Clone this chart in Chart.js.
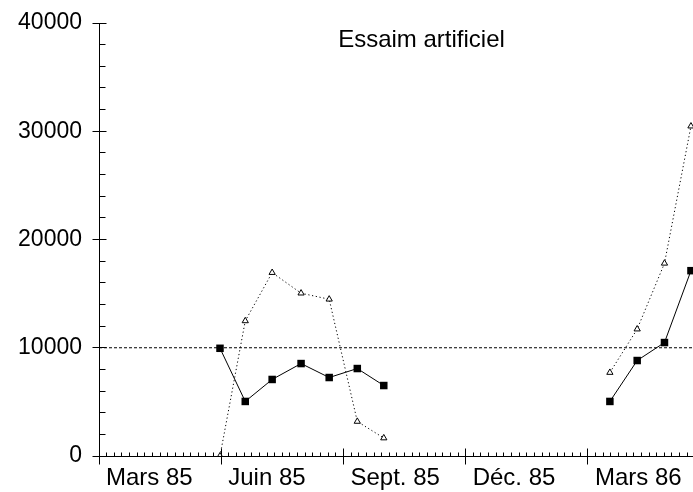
<!DOCTYPE html>
<html>
<head>
<meta charset="utf-8">
<script src="https://cdn.jsdelivr.net/npm/chart.js@4/dist/chart.umd.min.js"></script>
<style>
  html, body { margin: 0; padding: 0; background: #fff; }
  canvas { display: block; }
</style>
</head>
<body>
<canvas id="c" width="693" height="492"></canvas>
<script>
// ---- data (x = months since 1 March 1985) ----
const chartTitle = 'Essaim artificiel';
const tickMonths = [0, 3, 6, 9, 12];
const tickLabels = ['Mars 85', 'Juin 85', 'Sept. 85', 'Déc. 85', 'Mars 86'];
const yTickValues = [0, 10000, 20000, 30000, 40000];

const sampleMonths1985 = [2.97, 3.59, 4.25, 4.96, 5.65, 6.34, 6.99];
const sampleMonths1986 = [12.54, 13.21, 13.88, 14.53];

const squareValues1985 = [9950, 5040, 7070, 8540, 7250, 8080, 6510];
const squareValues1986 = [5040, 8820, 10480, 17120];

const triangleValues1985 = [0, 12480, 16940, 15040, 14480, 3190, 1660];
const triangleValues1986 = [7710, 11720, 17800, 30470];

const thresholdValue = 10000;
const xMin = 0, xMax = 14.58;
const yMin = 0, yMax = 40000;

// ---- build points ----
function seriesPoints(m1, v1, m2, v2) {
  const pts = m1.map((m, i) => ({ x: m, y: v1[i] }));
  pts.push({ x: (m1[m1.length - 1] + m2[0]) / 2, y: null });
  m2.forEach((m, i) => pts.push({ x: m, y: v2[i] }));
  return pts;
}

const FONT = '"Liberation Sans", Arial, sans-serif';

const decorations = {
  id: 'decorations',
  afterDraw(chart) {
    const { ctx, scales } = chart;
    const x = scales.x, y = scales.y;
    const ax = Math.round(y.right - 0.5) + 0.5;
    const ay = Math.round(x.top - 0.5) + 0.5;
    ctx.save();
    ctx.strokeStyle = '#000';
    ctx.lineWidth = 1;
    ctx.beginPath();
    // x minor ticks (16 per quarter), major ticks every quarter
    for (let k = 0; ; k++) {
      const v = xMin + k * 3 / 16;
      if (v > xMax + 1e-9) break;
      const px = Math.round(x.getPixelForValue(v) - 0.5) + 0.5;
      if (k % 16 === 0) {
        ctx.moveTo(px, ay - 8); ctx.lineTo(px, ay + 8);
      } else {
        ctx.moveTo(px, ay - 4); ctx.lineTo(px, ay);
      }
    }
    // y ticks every 2000, majors every 10000
    for (let v = yMin; v <= yMax; v += 2000) {
      const py = Math.round(y.getPixelForValue(v) - 0.5) + 0.5;
      if (v % 10000 === 0) {
        ctx.moveTo(ax - 7, py); ctx.lineTo(ax + 7, py);
      } else {
        ctx.moveTo(ax, py); ctx.lineTo(ax + 6, py);
      }
    }
    ctx.stroke();
    // title
    ctx.fillStyle = '#000';
    ctx.font = '24px ' + FONT;
    ctx.textAlign = 'center';
    ctx.textBaseline = 'alphabetic';
    ctx.fillText(chartTitle, 421.5, 46.5);
    ctx.restore();
  }
};

new Chart(document.getElementById('c'), {
  type: 'line',
  data: {
    datasets: [
      {
        label: 'seuil',
        data: [{ x: xMin, y: thresholdValue }, { x: xMax, y: thresholdValue }],
        borderColor: '#000',
        borderWidth: 1,
        borderDash: [3, 2],
        pointRadius: 0,
        order: 3
      },
      {
        label: 'triangles',
        data: seriesPoints(sampleMonths1985, triangleValues1985, sampleMonths1986, triangleValues1986),
        borderColor: '#000',
        borderWidth: 1,
        borderDash: [1.2, 2.6],
        pointStyle: 'triangle',
        pointRadius: 3.6,
        pointBackgroundColor: '#fff',
        pointBorderColor: '#000',
        pointBorderWidth: 1,
        spanGaps: false,
        order: 2
      },
      {
        label: 'carrés',
        data: seriesPoints(sampleMonths1985, squareValues1985, sampleMonths1986, squareValues1986),
        borderColor: '#000',
        borderWidth: 1,
        pointStyle: 'rect',
        pointRadius: 5.3,
        pointBackgroundColor: '#000',
        pointBorderColor: '#000',
        pointBorderWidth: 0,
        spanGaps: false,
        order: 1
      }
    ]
  },
  options: {
    responsive: false,
    animation: false,
    devicePixelRatio: 1,
    layout: { autoPadding: false, padding: { top: 23, right: 0, bottom: 0, left: 0 } },
    plugins: { legend: { display: false }, tooltip: { enabled: false }, title: { display: false } },
    elements: { line: { tension: 0 } },
    scales: {
      x: {
        type: 'linear',
        min: xMin,
        max: xMax,
        afterBuildTicks(scale) { scale.ticks = tickMonths.map(v => ({ value: v })); },
        afterFit(scale) {
          scale.height = 36;
          scale.paddingLeft = 0; scale.paddingRight = 0;
        },
        grid: { display: true, drawOnChartArea: false, drawTicks: false, color: 'rgba(0,0,0,0)' },
        border: { display: true, color: '#000', width: 1 },
        ticks: {
          autoSkip: false,
          maxRotation: 0,
          minRotation: 0,
          align: 'start',
          labelOffset: 7,
          padding: 8,
          color: '#000',
          font: { family: FONT, size: 24 },
          callback: (v) => { const i = tickMonths.indexOf(v); return i >= 0 ? tickLabels[i] : ''; }
        }
      },
      y: {
        type: 'linear',
        min: yMin,
        max: yMax,
        afterBuildTicks(scale) { scale.ticks = yTickValues.map(v => ({ value: v })); },
        afterFit(scale) {
          scale.width = 99;
          scale.paddingTop = 0; scale.paddingBottom = 0;
        },
        grid: { display: true, drawOnChartArea: false, drawTicks: false, color: 'rgba(0,0,0,0)' },
        border: { display: true, color: '#000', width: 1 },
        ticks: {
          padding: 17,
          color: '#000',
          font: { family: FONT, size: 23 },
          callback: (v) => String(v)
        }
      }
    }
  },
  plugins: [decorations]
});
</script>
</body>
</html>
